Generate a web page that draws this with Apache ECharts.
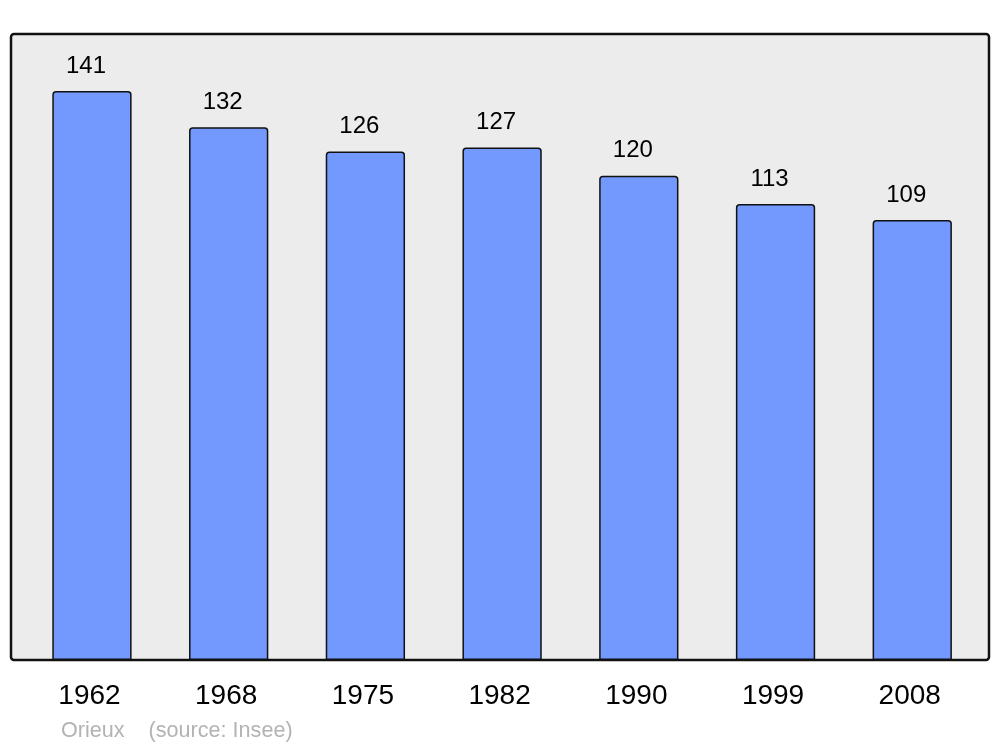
<!DOCTYPE html>
<html><head><meta charset="utf-8">
<script src="https://cdn.jsdelivr.net/npm/echarts@6/dist/echarts.min.js"></script>
<style>html,body{margin:0;padding:0;background:#fff}#c{width:1000px;height:747px}</style>
</head><body><div id="c"></div>
<script>
const categories = ['1962','1968','1975','1982','1990','1999','2008'];
const population = [141,132,126,127,120,113,109];
const footerText = 'Orieux    (source: Insee)';

const chart = echarts.init(document.getElementById('c'), null, {renderer:'canvas'});
chart.setOption({
  animation:false,
  backgroundColor:'#ffffff',
  textStyle:{fontFamily:'Liberation Sans, Arial, sans-serif'},
  graphic:[
    {type:'rect', z:0, shape:{x:11,y:34,width:978,height:626,r:3},
     style:{fill:'#ececec', stroke:'#111111', lineWidth:2.5}},
    {type:'text', z:5, left:61, top:720,
     style:{text:footerText, fill:'#b3b3b3', font:'21.6px "Liberation Sans", Arial, sans-serif'}}
  ],
  grid:{left:23.6, right:19.4, top:34, bottom:87},
  xAxis:{type:'category', data:categories,
    axisLine:{show:false}, axisTick:{show:false},
    axisLabel:{color:'#000', fontSize:28, margin:22, padding:[0,5,0,0],
      fontFamily:'Liberation Sans, Arial, sans-serif'}},
  yAxis:{type:'value', min:0, max:155.1, show:false, splitLine:{show:false}},
  series:[{type:'bar', data:population, barWidth:'58%', z:2,
    itemStyle:{color:'#7399ff', borderColor:'#111111', borderWidth:1.5, borderRadius:[3,3,0,0]},
    label:{show:true, position:'top', distance:13, offset:[-6,0], color:'#000', fontSize:24,
      fontFamily:'Liberation Sans, Arial, sans-serif'}
  }]
});
</script></body></html>
